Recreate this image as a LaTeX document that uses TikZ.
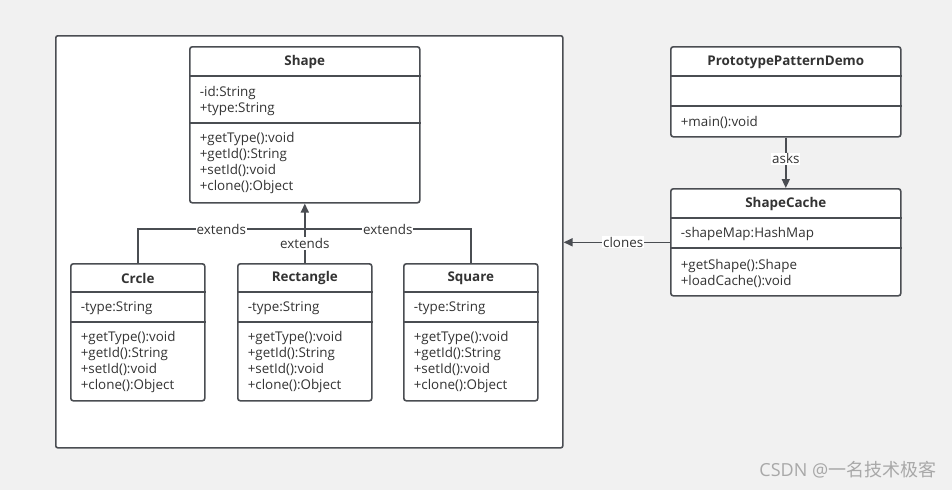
\documentclass[tikz,border=0pt]{standalone}
\usepackage{fontspec}
\setmainfont{Open Sans}
\newfontfamily\cjk{Noto Sans CJK SC}
\usetikzlibrary{arrows.meta}
\definecolor{trait}{HTML}{4A4D52}
\definecolor{fond}{HTML}{F1F1F1}
\definecolor{encre}{HTML}{333333}
\definecolor{marque}{HTML}{A8A8A8}

\begin{document}
\begin{tikzpicture}[x=1pt,y=-1pt,line width=1.6pt,>={Triangle[length=9pt,width=8pt]}]
%styles : boîte de classe, textes, liens
\tikzset{classe/.style={draw=trait,fill=white,rounded corners=2.5pt,anchor=north west,inner sep=0pt}} %boîte UML
\tikzset{titre/.style={font=\bfseries\fontsize{13.4}{16}\selectfont,text=encre,yshift=-1pt}}
\tikzset{texte/.style={font=\fontsize{13.4}{16}\selectfont,text=encre,align=left,anchor=west,inner sep=0pt,yshift=-1.5pt}}
\tikzset{lien/.style={draw=trait}}
\tikzset{etiq/.style={fill=white,inner sep=1pt,font=\fontsize{13.4}{14}\selectfont,text=encre}}

%fond gris et cadre blanc
\fill[fond] (0,0) rectangle (952,490);
\useasboundingbox (0,0) rectangle (952,490);
\node[classe,rounded corners=2pt,minimum width=507,minimum height=412] (cadre) at (55,35) {};

%classe Shape
\node[classe,minimum width=230,minimum height=156] (shape) at (189,46) {};
\draw[lien] (shape.west |- 0,76) -- (shape.east |- 0,76);
\draw[lien] (shape.west |- 0,123) -- (shape.east |- 0,123);
\node[titre] (shapetitre) at (shape.north |- 0,61) {Shape};
\node[texte] (shapeattr) at (199,99.5) {-id:String\\+type:String};
\node[texte] (shapemeth) at (199,162) {+getType():void\\+getId():String\\+setId():void\\+clone():Object};

%classes filles
\foreach \nom/\id/\x in {Crcle/crcle/70,Rectangle/rect/237,Square/carre/403}{
  \node[classe,minimum width=134,minimum height=137] (\id) at (\x,263) {};
  \draw[lien] (\id.west |- 0,292) -- (\id.east |- 0,292);
  \draw[lien] (\id.west |- 0,322) -- (\id.east |- 0,322);
  \node[titre] (\id titre) at (\id.north |- 0,277.5) {\nom};
  \node[texte] (\id attr) at (\x+10,307) {-type:String};
  \node[texte] (\id meth) at (\x+10,361) {+getType():void\\+getId():String\\+setId():void\\+clone():Object};
}

%classe PrototypePatternDemo
\node[classe,minimum width=230,minimum height=90] (demo) at (670,46) {};
\draw[lien] (demo.west |- 0,76) -- (demo.east |- 0,76);
\draw[lien] (demo.west |- 0,106) -- (demo.east |- 0,106);
\node[titre] (demotitre) at (demo.north |- 0,61) {PrototypePatternDemo};
\node[texte] (demometh) at (680,121) {+main():void};

%classe ShapeCache
\node[classe,minimum width=230,minimum height=107] (cache) at (670,188) {};
\draw[lien] (cache.west |- 0,218) -- (cache.east |- 0,218);
\draw[lien] (cache.west |- 0,248) -- (cache.east |- 0,248);
\node[titre] (cachetitre) at (cache.north |- 0,203) {ShapeCache};
\node[texte] (cacheattr) at (680,233) {-shapeMap:HashMap};
\node[texte] (cachemeth) at (680,271.5) {+getShape():Shape\\+loadCache():void};

%liens d'héritage
\coordinate (jonc) at (shape.south |- 0,229);
\draw[lien] (crcle.north) |- (jonc) node[pos=0.75,etiq] {extends};
\draw[lien] (carre.north) |- (jonc) node[pos=0.75,etiq] {extends};
\draw[lien,->] (rect.north) -- (shape.south) node[pos=0.33,etiq] {extends};

%associations
\draw[lien,->] (demo.south) -- (cache.north) node[pos=0.42,etiq] {asks};
\draw[lien,->] (cache.west) -- (cadre.east |- cache.west) node[pos=0.44,etiq] {clones};

%filigrane
\node[anchor=east,text=marque,font=\fontsize{18}{20}\selectfont,inner sep=0pt] (filigrane) at (937,470) {CSDN @{\cjk 一名技术极客}};
\end{tikzpicture}
\end{document}
